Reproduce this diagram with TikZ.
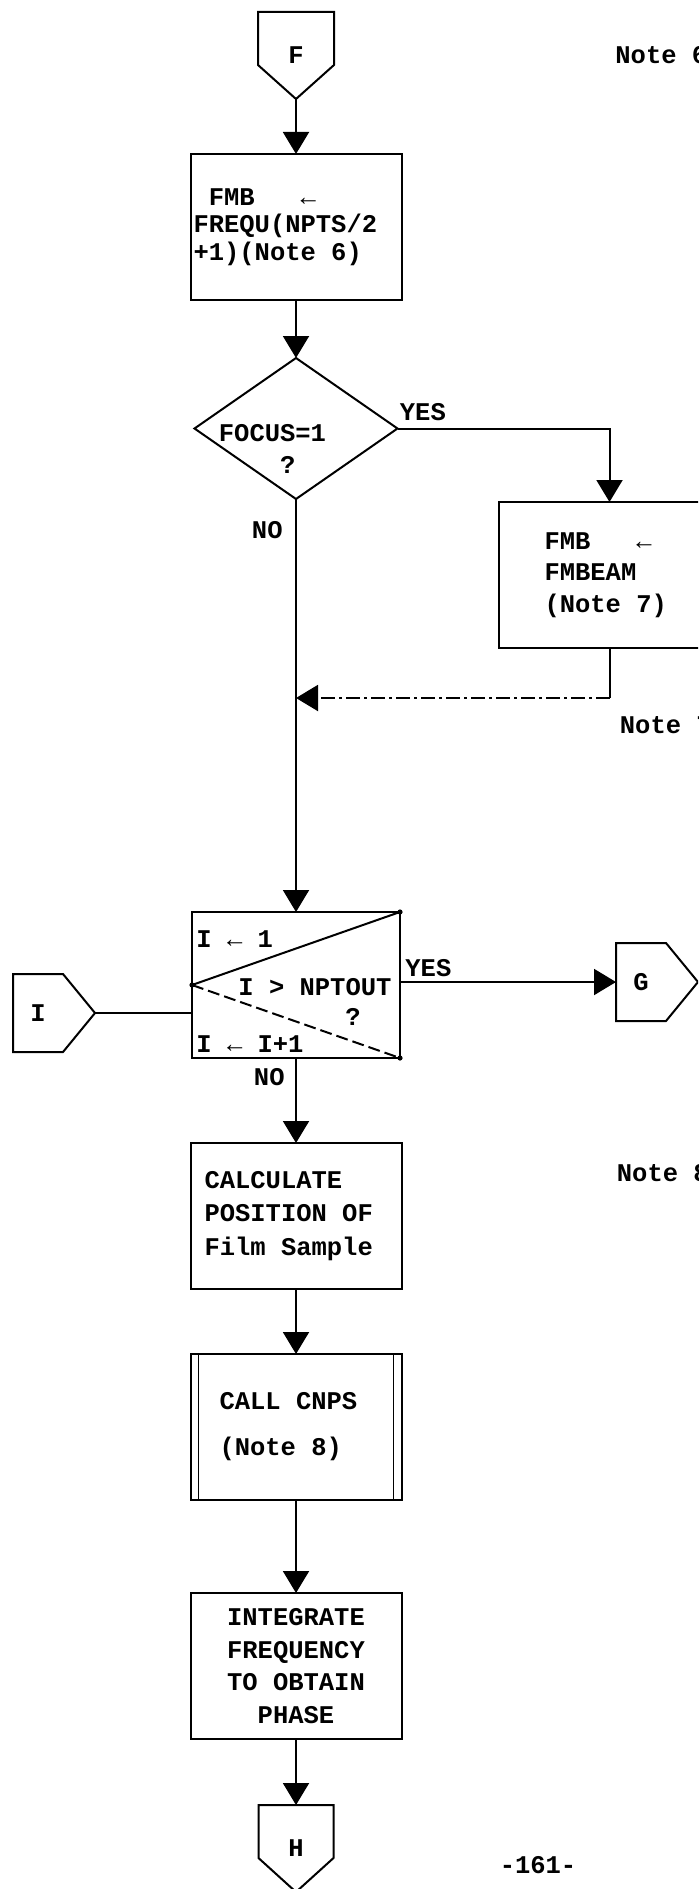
\documentclass[tikz,border=0pt]{standalone}
\usepackage{fontspec}
\setmainfont{Liberation Mono}
\usetikzlibrary{positioning,arrows.meta,shapes.geometric}
\newcommand\tw[1]{\bfseries\fontsize{12.75}{#1}\selectfont}
\newcommand\ws{\hspace*{0.6em}}

\begin{document}
\begin{tikzpicture}[
  font            = \tw{16},
  line/.style     = {line width=1pt},
  arr/.style      = {line, -{Triangle[length=11pt,width=13pt]}},
  box/.style      = {draw, line width=1pt, minimum width=105.5pt,
                     minimum height=73pt, inner sep=0pt, outer sep=0pt},
  callbox/.style  = {box, path picture={
                       \draw[line width=0.8pt]
                         ([xshift=4pt]path picture bounding box.north west) -- ([xshift=4pt]path picture bounding box.south west)
                         ([xshift=-4pt]path picture bounding box.north east) -- ([xshift=-4pt]path picture bounding box.south east);}},
  loopbox/.style  = {box, minimum width=104pt},
  decision/.style = {diamond, draw, line width=1pt, aspect=1.44, outer sep=0pt,
                     minimum width=101.5pt, minimum height=70.5pt, inner sep=0pt},
  offdown/.style  = {minimum width=38pt, minimum height=43.5pt, inner sep=0pt, outer sep=0pt,
                     append after command={\pgfextra{\draw[line]
                       (\tikzlastnode.north west) -- (\tikzlastnode.north east)
                       -- ([yshift=17pt]\tikzlastnode.south east) -- (\tikzlastnode.south)
                       -- ([yshift=17pt]\tikzlastnode.south west) -- cycle;}}},
  offright/.style = {minimum width=25pt, minimum height=39pt, inner sep=0pt, outer sep=0pt,
                     append after command={\pgfextra{\draw[line]
                       (\tikzlastnode.north west) -- (\tikzlastnode.north east)
                       -- ([xshift=16pt]\tikzlastnode.east) -- (\tikzlastnode.south east)
                       -- (\tikzlastnode.south west) -- cycle;}}},
  lbl/.style      = {inner sep=0pt},
  note/.style     = {inner sep=0pt, anchor=west},
]
\useasboundingbox (0,0) rectangle (349pt,-944.5pt);
\clip (0,0) rectangle (349pt,-944.5pt);

% main column
\node[offdown] (conF) at (148pt,-27.75pt) {F};
\node[box, below=27.5pt of conF, font=\tw{13.75}, align=left, text width=102.5pt] (fmb)
  {\ws FMB\ws\ws\ws ←\\FREQU(NPTS/2\\+1)(Note\ws 6)};
\node[decision, below=29pt of fmb,
      label={[lbl, align=left, font=\tw{16}, xshift=-11.75pt, yshift=-10.25pt]center:FOCUS=1\\\ws\ws\ws\ws ?}] (focus) {};
\node[box, minimum width=111pt, font=\tw{15.75}, align=left, text width=65pt,
      below right=36.75pt and 50.5pt of focus.east] (fmbeam) {FMB\ws\ws\ws ←\\FMBEAM\\(Note\ws 7)};
\node[loopbox, below=206.5pt of focus] (loop) {};
\node[box, below=42.5pt of loop, font=\tw{16.75}, align=left, text width=91.5pt] (calc)
  {CALCULATE\\POSITION\ws OF\\Film\ws Sample};
\node[callbox, below=32.5pt of calc, font=\tw{23}, align=left, text width=76.5pt] (cnps)
  {CALL\ws CNPS\\(Note\ws 8)};
\node[box, below=46.5pt of cnps, font=\tw{16.25}, align=center] (integ)
  {INTEGRATE\\FREQUENCY\\TO\ws OBTAIN\\PHASE};
\node[offdown, minimum width=37.5pt, below=33pt of integ] (conH) {H};

% loop box contents
\node[lbl, anchor=west] (init) at ([xshift=2pt,yshift=-13.5pt]loop.north west) {I~←~1};
\node[lbl, anchor=west] (test) at ([xshift=23pt,yshift=-1pt]loop.west) {I~>~NPTOUT};
\node[lbl] (testq) at ([xshift=28.5pt,yshift=-16pt]loop.center) {?};
\node[lbl, anchor=west] (incr) at ([xshift=2pt,yshift=7pt]loop.south west) {I~←~I+1};

% side connectors
\node[offright, left=64.5pt of loop, yshift=-14pt] (conI) {I};
\node[offright, right=108pt of loop, yshift=1.5pt] (conG) {G};

% labels and notes
\node[lbl, anchor=south west] (yes1) at ([xshift=1pt,yshift=3.5pt]focus.east) {YES};
\node[lbl, anchor=east] (no1) at ([xshift=-6.5pt,yshift=-15.5pt]focus.south) {NO};
\node[lbl, anchor=south west] (yes2) at ([xshift=2.5pt,yshift=4pt]loop.east) {YES};
\node[lbl, anchor=east] (no2) at ([xshift=-5.5pt,yshift=-9.5pt]loop.south) {NO};
\node[note, right=140.5pt of conF] (note6) {Note~6};
\node[note] (note7) at ([xshift=5pt,yshift=-38.5pt]fmbeam.south) {Note~7};
\node[note] (note8) at ([xshift=107.5pt,yshift=-15pt]calc.north east) {Note~8};
\node[lbl] (pageno) at ([xshift=121pt,yshift=-8.25pt]conH.center) {-161-};

% connectors
\draw[arr] (conF.south) -- (fmb.north);
\draw[arr] (fmb.south) -- (focus.north);
\draw[arr] (focus.east) -| (fmbeam.north);
\draw[arr] (focus.south) -- (loop.north);
\coordinate[below=99.5pt of focus.south] (merge);
\draw[line] (fmbeam.south) -- (fmbeam.south |- merge);
\draw[arr, dash pattern=on 7pt off 2pt on 1.5pt off 2pt] (fmbeam.south |- merge) -- (merge);
\draw[line] (loop.west) -- (loop.north east);
\draw[line, dash pattern=on 6pt off 2.5pt] (loop.west) -- (loop.south east);
\fill (loop.west) circle (1.3pt) (loop.north east) circle (1.3pt) (loop.south east) circle (1.3pt);
\coordinate (Itip) at ([xshift=16pt]conI.east);
\draw[line] (Itip) -- (Itip -| loop.west);
\draw[arr] (conG.west -| loop.east) -- (conG.west);
\draw[arr] (loop.south) -- (calc.north);
\draw[arr] (calc.south) -- (cnps.north);
\draw[arr] (cnps.south) -- (integ.north);
\draw[arr] (integ.south) -- (conH.north);

\end{tikzpicture}
\end{document}
